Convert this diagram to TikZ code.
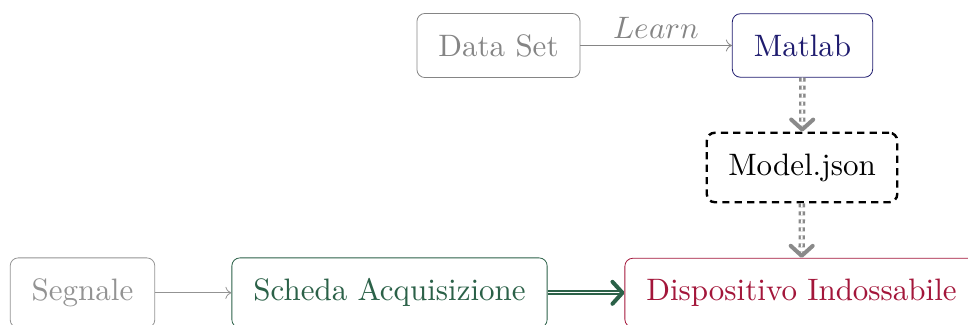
\documentclass[tikz,border=0pt]{standalone}
\usepackage{unicode-math}
\setmainfont{lmroman10-regular.otf}[ItalicFont=lmroman10-italic.otf]
\setmathfont{latinmodern-math.otf}
\usetikzlibrary{arrows.meta}
\definecolor{dsgray}{HTML}{858585}
\definecolor{sggray}{HTML}{939393}
\definecolor{mlblue}{HTML}{1E1B6E}
\definecolor{scgreen}{HTML}{2B6148}
\definecolor{dired}{HTML}{A3163A}
\definecolor{arrgray}{HTML}{8A8A8A}
\tikzset{
  lbl/.style={font=\fontsize{15.5}{18}\selectfont},
  box/.style={lbl, draw, rounded corners=4pt, inner xsep=10.75pt, inner ysep=10.4pt},
  thinarrow/.style={-{To[length=3pt,width=6pt]}, line width=0.4pt},
  barbtip/.style={-{Straight Barb[length=5pt,width=11pt,line width=2pt,round]}},
  modelflow/.style={barbtip, draw=arrgray, double, line width=1.2pt,
    double distance=0.8pt, dash pattern=on 2pt off 2pt},
}
\begin{document}
\begin{tikzpicture}[x=0.5pt,y=-0.5pt]
  \path[use as bounding box, clip] (0,0) rectangle (968,325);

  \node[box, draw=dsgray, text=dsgray] (data) at (498.5,45.5) {Data Set};
  \node[box, draw=mlblue, text=mlblue] (matlab) at (802.5,45.5) {Matlab};
  \node[box, draw=black, dash pattern=on 3.6pt off 2.6pt, very thick, text=black]
    (model) at (802,167.5) {Model.json};

  \node[box, draw=sggray, text=sggray] (segnale) at (82.5,292.8) {Segnale};
  \node[box, draw=scgreen, text=scgreen] (scheda) at (389.5,292.8) {Scheda Acquisizione};
  \node[box, draw=dired, text=dired] (disp) at (801.5,292.8) {Dispositivo Indossabile};

  \draw[thinarrow, draw=dsgray] (data) -- node[above, text=dsgray, lbl] {$Learn$} (matlab);
  \draw[modelflow] (matlab) -- (model);
  \draw[modelflow] (model) -- (disp);

  \draw[thinarrow, draw=sggray] (segnale) -- (scheda);
  \draw[barbtip, draw=scgreen, double, line width=1pt, double distance=0.5pt]
    (scheda) -- (disp);
\end{tikzpicture}
\end{document}
